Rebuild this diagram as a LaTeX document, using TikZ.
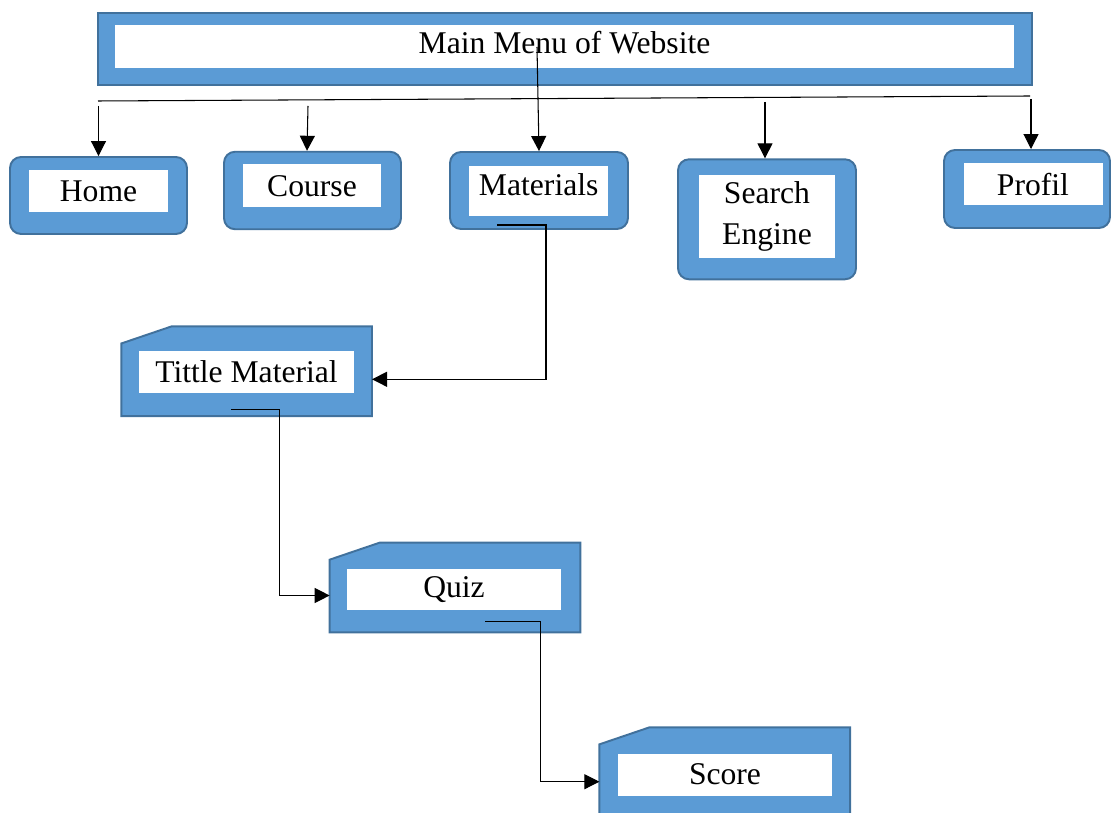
\documentclass[tikz,border=0pt]{standalone}
\usepackage{fontspec}
\setmainfont{Liberation Serif}
\usetikzlibrary{arrows.meta}

\definecolor{boxblue}{HTML}{5B9BD5}
\definecolor{boxedge}{HTML}{41719C}

\begin{document}
\begin{tikzpicture}[x=0.02cm, y=-0.02cm,
        outerbox/.style={draw=boxedge, fill=boxblue, line width=1.1pt, inner sep=0pt},
        roundbox/.style={outerbox, rectangle, rounded corners=0.22cm},
        snipbox/.style={rectangle, inner sep=0pt, minimum width=5cm, minimum height=1.78cm},
        snipfill/.style={draw=boxedge, fill=boxblue, line width=1.1pt},
        label/.style={fill=white, inner sep=0pt, font=\fontsize{18}{23.7}\selectfont, align=center},
        link/.style={-{Triangle[length=0.3cm, width=0.3cm]}, line width=0.6pt}]
                \useasboundingbox (0,0) rectangle (1111,813);

                \node[outerbox, rectangle, minimum width=18.68cm, minimum height=1.44cm] (menu) at (565, 49) {};
                \node[roundbox, minimum width=3.54cm, minimum height=1.54cm] (home) at (98.5, 195.5) {};
                \node[roundbox, minimum width=3.54cm, minimum height=1.55cm] (course) at (312.5, 190.5) {};
                \node[roundbox, minimum width=3.56cm, minimum height=1.54cm] (materials) at (539, 190.5) {};
                \node[roundbox, minimum width=3.56cm, minimum height=2.4cm] (search) at (767, 219.3) {};
                \node[roundbox, minimum width=3.32cm, minimum height=1.56cm] (profil) at (1027, 189) {};
                \node[snipbox] (tittle) at (246.7, 371.3) {};
                \node[snipbox] (quiz) at (455, 587.5) {};
                \node[snipbox] (score) at (724.7, 772.2) {};

                % snipped top left corner
                \foreach \n in {tittle, quiz, score}
                    \draw[snipfill] (\n.south west) -- ([yshift=-0.34cm]\n.north west)
                        -- ([xshift=1cm]\n.north west) -- (\n.north east) -- (\n.south east) -- cycle;

                \node[label, minimum width=17.98cm, minimum height=0.86cm, text depth=0.16cm] (menuIn) at (564.5, 46.7) {Main Menu of Website};
                \node[label, minimum width=2.78cm, minimum height=0.84cm] (homeIn) at (98.5, 191) {Home};
                \node[label, minimum width=2.78cm, minimum height=0.86cm] (courseIn) at (312, 186) {Course};
                \node[label, minimum width=2.78cm, minimum height=1cm, text depth=0.25cm] (materialsIn) at (538.7, 191) {Materials};
                \node[label, minimum width=2.72cm, minimum height=1.68cm] (searchIn) at (767, 216.5) {Search\\Engine};
                \node[label, minimum width=2.78cm, minimum height=0.84cm] (profilIn) at (1033, 184.5) {Profil};
                \node[label, minimum width=4.3cm, minimum height=0.84cm] (tittleIn) at (246.5, 372) {Tittle Material};
                \node[label, minimum width=4.3cm, minimum height=0.84cm] (quizIn) at (454, 589.5) {Quiz};
                \node[label, minimum width=4.3cm, minimum height=0.84cm] (scoreIn) at (725, 774.5) {Score};

                % line under the main menu
                \coordinate (busL) at (98, 101);
                \coordinate (busR) at (1030, 96);
                \draw[line width=0.6pt] (busL) -- (busR);

                \coordinate (homeTop) at (98.5, 106);
                \coordinate (courseTop) at (308, 106);
                \coordinate (materialsTop) at (537, 47);
                \coordinate (searchTop) at (765, 102);
                \coordinate (profilTop) at (1031, 99);
                \draw[link] (homeTop) -- (home.north);
                \draw[link] (courseTop) -- (307, 0 |- course.north);
                \draw[link] (materialsTop) -- (materials.north);
                \draw[link] (searchTop) -- (searchTop |- search.north);
                \draw[link] (profilTop) -- (profilTop |- profil.north);

                % materials down to the quiz chain
                \coordinate (materialsOut) at (497, 225);
                \coordinate (tittleOut) at (231, 409.3);
                \coordinate (quizOut) at (485, 621.7);
                \draw[link] (materialsOut) -- (546, 225) |- ([yshift=-0.16cm]tittle.east);
                \draw[link] (tittleOut) -- (279.3, 409.3) |- ([yshift=-0.16cm]quiz.west);
                \draw[link] (quizOut) -- (540.7, 621.7) |- ([yshift=-0.19cm]score.west);
            \end{tikzpicture}
\end{document}
